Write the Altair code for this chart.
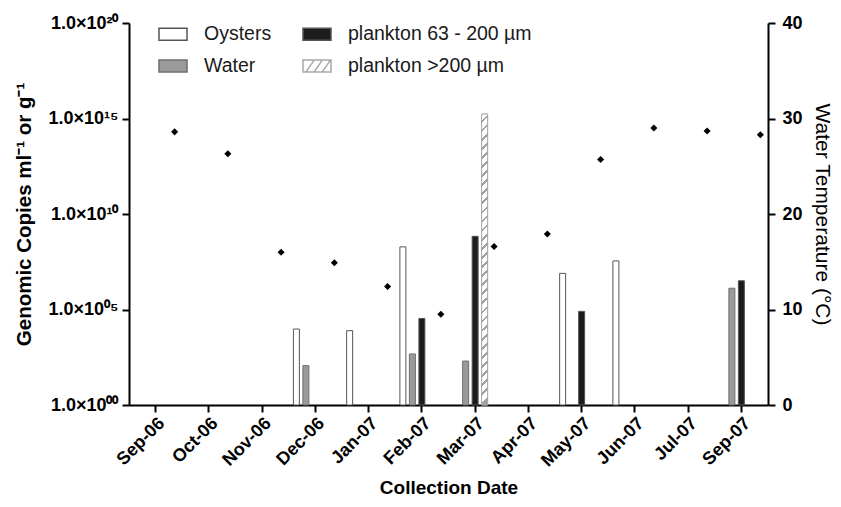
import altair as alt
import pandas as pd

# ---------------- data ----------------
months = ["Sep-06", "Oct-06", "Nov-06", "Dec-06", "Jan-07", "Feb-07",
          "Mar-07", "Apr-07", "May-07", "Jun-07", "Jul-07", "Sep-07"]

oysters = [None, None, None, 9.5e3, 7.8e3, 1.9e8, None, None, 7.8e6, 3.5e7, None, None]
water = [None, None, None, 1.15e2, None, 4.7e2, 2.0e2, None, None, None, None, 1.3e6]
plankton_63_200 = [None, None, None, None, None, 3.4e4, 6.8e8, None, 8.0e4, None, None, 3.2e6]
plankton_200 = [None, None, None, None, None, None, 1.7e15, None, None, None, None, None]
temperature = [28.6, 26.3, 16.0, 14.9, 12.4, 9.5, 16.6, 17.9, 25.7, 29.0, 28.7, 28.3]

series_names = ["Oysters", "Water", "plankton 63 - 200 µm", "plankton >200 µm"]
temp_name = "Water Temperature"

y_tick_values = [1, 1e5, 1e10, 1e15, 1e20]
y_tick_labels = ["1.0×10⁰⁰", "1.0×10⁰⁵", "1.0×10¹⁰", "1.0×10¹⁵", "1.0×10²⁰"]
t_tick_values = [0, 10, 20, 30, 40]

# ---------------- tables ----------------
rows = []
for name, vals in zip(series_names, [oysters, water, plankton_63_200, plankton_200]):
    for m, v in zip(months, vals):
        if v is not None:
            rows.append({"month": m, "series": name, "copies": v})
bars_df = pd.DataFrame(rows)
hatch_df = bars_df[bars_df["series"] == series_names[3]]
temp_df = pd.DataFrame({"month": months, "series": temp_name, "temp": temperature})

legend_order = series_names

# ---------------- styles ----------------
FONT = "Liberation Sans"
fill_scale = alt.Scale(domain=legend_order,
                       range=["#ffffff", "#9a9a9a", "#1c1c1c", "#ffffff"])
stroke_scale = alt.Scale(domain=legend_order,
                         range=["#555555", "#6e6e6e", "#555555", "#a8a8a8"])
rect_path = "M-1,-0.42H1V0.42H-1Z"
hatch_path = ("M-1,-0.42H1V0.42H-1Z"
              "M-0.78,0.42L-0.2,-0.42M-0.2,0.42L0.38,-0.42M0.38,0.42L0.96,-0.42")
shape_scale = alt.Scale(domain=legend_order,
                        range=[rect_path, rect_path, rect_path, hatch_path])

legend_def = alt.Legend(title=None, orient="none", legendX=29, legendY=-4,
                        columns=2, columnPadding=28, rowPadding=7,
                        symbolSize=784, symbolStrokeWidth=1.5,
                        labelFontSize=19.5, labelFont=FONT, labelColor="#1a1a1a",
                        labelOffset=16, labelLimit=400)

# diagonal hatching as a striped gradient
N = 32
stops = []
for k in range(N):
    o = k / N
    stops += [alt.GradientStop(color="#ffffff", offset=o),
              alt.GradientStop(color="#ffffff", offset=o + 0.7 / N),
              alt.GradientStop(color="#a0a0a0", offset=o + 0.7 / N),
              alt.GradientStop(color="#a0a0a0", offset=(k + 1) / N)]
hatch_fill = alt.LinearGradient(gradient="linear", stops=stops,
                                x1=0, y1=0, x2=0.0205, y2=1)

x_enc = alt.X(
    "month:N",
    scale=alt.Scale(domain=months, paddingInner=0, paddingOuter=0),
    axis=alt.Axis(title="Collection Date", labelAngle=-45, labelFontSize=18,
                  labelFontWeight="bold", labelColor="black", labelPadding=2,
                  tickSize=7, tickWidth=2, tickColor="black",
                  domainWidth=2, domainColor="black",
                  titleFontSize=19, titleFontWeight="bold", titleColor="black",
                  titleX=319.5, titleY=82, titleBaseline="middle", titleAlign="center"),
)
xoff_enc = alt.XOffset(
    "series:N",
    scale=alt.Scale(domain=series_names + [temp_name],
                    paddingInner=0.368, paddingOuter=0.489),
)

label_expr = ("['" + "','".join(y_tick_labels) + "'][round(log(datum.value)/LN10/5)]")

y_left_scale = alt.Scale(type="log", domain=[1, 1e20], nice=False)
y_left_axis = alt.Axis(
    title="Genomic Copies ml⁻¹ or g⁻¹", values=y_tick_values, labelExpr=label_expr,
    labelFontSize=18, labelFontWeight="bold", labelColor="black", labelPadding=4,
    tickSize=7, tickWidth=2, tickColor="black", domainWidth=2, domainColor="black",
    grid=False, titleFontSize=20.5, titleFontWeight="bold", titleColor="black",
    titleX=-105, titleY=191, titleBaseline="middle", titleAlign="center", titleAngle=270,
)

bars = alt.Chart(bars_df).mark_bar(strokeWidth=1).encode(
    x=x_enc,
    xOffset=xoff_enc,
    y=alt.Y("copies:Q", scale=y_left_scale, axis=y_left_axis),
    y2=alt.Y2Datum(1),
    fill=alt.Fill("series:N", scale=fill_scale, legend=legend_def),
    stroke=alt.Stroke("series:N", scale=stroke_scale, legend=legend_def),
)

hatch = alt.Chart(hatch_df).mark_bar(fill=hatch_fill, stroke="#a8a8a8", strokeWidth=1).encode(
    x=x_enc,
    xOffset=xoff_enc,
    y=alt.Y("copies:Q", scale=y_left_scale, axis=None),
    y2=alt.Y2Datum(1),
)

points = alt.Chart(temp_df).mark_point(
    shape="diamond", filled=True, size=50, color="black", opacity=1
).encode(
    x=x_enc,
    xOffset=xoff_enc,
    y=alt.Y("temp:Q", scale=alt.Scale(domain=[0, 40], nice=False),
            axis=alt.Axis(orient="right", title="Water Temperature (°C)",
                          values=t_tick_values, labelFontSize=18, labelFontWeight="bold",
                          labelColor="black", labelPadding=7, tickSize=7, tickWidth=2,
                          tickColor="black", domainWidth=2, domainColor="black", grid=False,
                          titleFontSize=21, titleFontWeight="normal", titleColor="black",
                          titleX=53, titleY=191, titleBaseline="middle",
                          titleAlign="center", titleAngle=90)),
)

legend_layer = alt.Chart(bars_df).mark_point(
    filled=True, opacity=1, clip=True, strokeWidth=1.5
).encode(
    x=alt.value(-2000),
    y=alt.value(-2000),
    fill=alt.Fill("series:N", scale=fill_scale, legend=legend_def),
    stroke=alt.Stroke("series:N", scale=stroke_scale, legend=legend_def),
    shape=alt.Shape("series:N", scale=shape_scale, legend=legend_def),
)

chart = alt.layer(bars, hatch, points, legend_layer).resolve_scale(
    y="independent"
).properties(
    width=639, height=382,
    autosize=alt.AutoSizeParams(type="none"),
    padding={"left": 121, "top": 15, "right": 65, "bottom": 94},
).configure(font=FONT).configure_view(stroke=None)

chart.save("out.html", embed_options={"renderer": "svg", "actions": False})
